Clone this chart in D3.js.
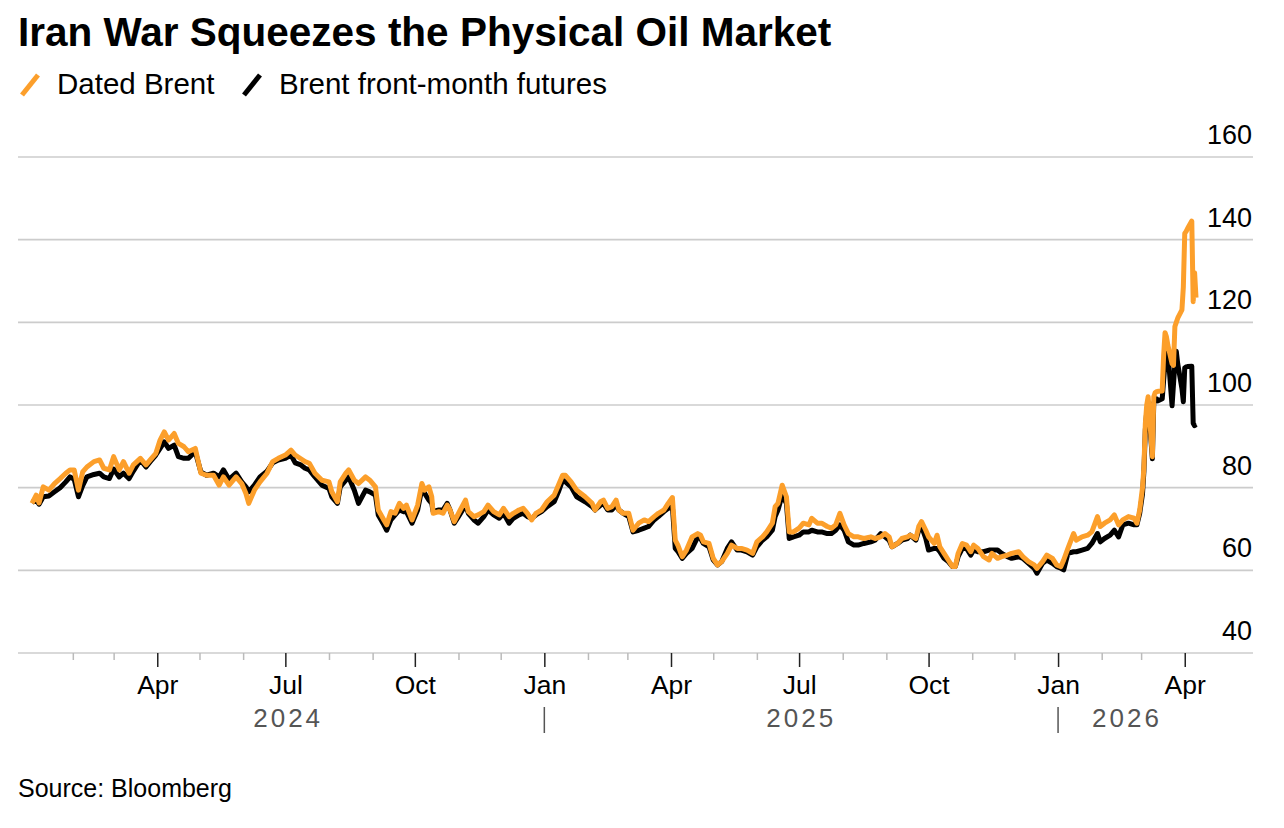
<!DOCTYPE html>
<html>
<head>
<meta charset="utf-8">
<script src="https://cdn.jsdelivr.net/npm/d3@7"></script>
<style>
  body { margin: 0; background: #fff; }
  svg text { font-family: "Liberation Sans", Arial, sans-serif; }
</style>
</head>
<body>
<script>
// values (USD / barrel)
const dates = [
  "2024-01-03","2024-01-06","2024-01-08","2024-01-11","2024-01-15","2024-01-19","2024-01-23","2024-01-27","2024-01-30","2024-02-02",
  "2024-02-05","2024-02-08","2024-02-11","2024-02-16","2024-02-20","2024-02-23","2024-02-27","2024-03-01","2024-03-05","2024-03-08",
  "2024-03-12","2024-03-15","2024-03-20","2024-03-24","2024-03-27","2024-03-31","2024-04-03","2024-04-06","2024-04-09","2024-04-13",
  "2024-04-16","2024-04-20","2024-04-23","2024-04-28","2024-05-02","2024-05-06","2024-05-11","2024-05-15","2024-05-18","2024-05-22",
  "2024-05-27","2024-05-31","2024-06-03","2024-06-05","2024-06-09","2024-06-13","2024-06-18","2024-06-22","2024-06-26","2024-07-01",
  "2024-07-05","2024-07-08","2024-07-12","2024-07-15","2024-07-18","2024-07-22","2024-07-27","2024-08-01","2024-08-03","2024-08-07",
  "2024-08-09","2024-08-13","2024-08-15","2024-08-19","2024-08-22","2024-08-27","2024-08-30","2024-09-03","2024-09-05","2024-09-09",
  "2024-09-11","2024-09-14","2024-09-17","2024-09-20","2024-09-23","2024-09-25","2024-09-29","2024-10-03","2024-10-06","2024-10-08",
  "2024-10-11","2024-10-13","2024-10-14","2024-10-18","2024-10-21","2024-10-24","2024-10-26","2024-10-29","2024-11-01","2024-11-06",
  "2024-11-08","2024-11-12","2024-11-15","2024-11-19","2024-11-22","2024-11-26","2024-11-30","2024-12-03","2024-12-07","2024-12-10",
  "2024-12-14","2024-12-17","2024-12-20","2024-12-23","2024-12-26","2024-12-30","2025-01-03","2025-01-08","2025-01-11","2025-01-14",
  "2025-01-16","2025-01-20","2025-01-24","2025-01-30","2025-02-04","2025-02-06","2025-02-10","2025-02-12","2025-02-15","2025-02-18",
  "2025-02-21","2025-02-23","2025-02-26","2025-03-02","2025-03-05","2025-03-09","2025-03-13","2025-03-16","2025-03-20","2025-03-23",
  "2025-03-27","2025-03-30","2025-04-02","2025-04-04","2025-04-06","2025-04-09","2025-04-12","2025-04-16","2025-04-20","2025-04-22",
  "2025-04-24","2025-04-28","2025-05-01","2025-05-04","2025-05-07","2025-05-11","2025-05-14","2025-05-18","2025-05-21","2025-05-25",
  "2025-05-29","2025-06-01","2025-06-05","2025-06-08","2025-06-12","2025-06-14","2025-06-16","2025-06-19","2025-06-22","2025-06-24",
  "2025-06-27","2025-07-01","2025-07-04","2025-07-08","2025-07-10","2025-07-14","2025-07-17","2025-07-21","2025-07-24","2025-07-27",
  "2025-07-30","2025-08-02","2025-08-05","2025-08-09","2025-08-12","2025-08-16","2025-08-21","2025-08-24","2025-08-28","2025-08-31",
  "2025-09-03","2025-09-05","2025-09-09","2025-09-12","2025-09-16","2025-09-18","2025-09-22","2025-09-24","2025-09-26","2025-09-29",
  "2025-10-01","2025-10-05","2025-10-07","2025-10-09","2025-10-12","2025-10-15","2025-10-18","2025-10-20","2025-10-22","2025-10-25",
  "2025-10-28","2025-10-31","2025-11-02","2025-11-05","2025-11-09","2025-11-13","2025-11-15","2025-11-19","2025-11-22","2025-11-26",
  "2025-11-29","2025-12-04","2025-12-07","2025-12-11","2025-12-15","2025-12-17","2025-12-21","2025-12-24","2025-12-28","2025-12-31",
  "2026-01-03","2026-01-05","2026-01-08","2026-01-12","2026-01-14","2026-01-18","2026-01-22","2026-01-25","2026-01-29","2026-01-31",
  "2026-02-03","2026-02-07","2026-02-10","2026-02-13","2026-02-16","2026-02-20","2026-02-24","2026-02-26","2026-02-28","2026-03-02",
  "2026-03-03","2026-03-04","2026-03-05","2026-03-06","2026-03-09","2026-03-10","2026-03-11","2026-03-12","2026-03-13","2026-03-16",
  "2026-03-17","2026-03-18","2026-03-19","2026-03-20","2026-03-23","2026-03-24","2026-03-25","2026-03-26","2026-03-27","2026-03-30",
  "2026-03-31","2026-04-01","2026-04-02","2026-04-03","2026-04-06","2026-04-07","2026-04-08","2026-04-09"
];

const datedBrent = [
  76.2,78.2,76.3,80.2,79.4,81.0,82.2,83.5,84.3,84.3,
  79.4,83.8,85.0,86.3,86.7,84.7,84.3,87.5,84.3,86.3,
  83.5,85.5,87.1,85.5,86.7,88.3,91.5,93.5,91.5,93.1,
  90.7,89.9,88.7,89.5,83.5,83.0,83.0,80.6,82.6,80.6,
  82.6,81.0,78.6,76.2,79.4,81.4,83.5,86.3,87.1,87.9,
  89.1,87.9,87.0,86.3,85.9,83.5,81.8,81.4,79.0,76.6,
  81.4,83.5,84.3,81.8,81.0,82.6,81.8,80.2,74.6,72.2,
  71.0,74.2,73.8,76.2,75.0,75.8,72.2,75.8,81.0,79.4,
  80.2,77.8,73.8,74.2,73.8,75.8,74.6,71.8,73.8,77.0,
  74.2,73.0,73.4,74.2,75.8,74.2,73.4,75.0,73.0,73.8,
  74.6,75.0,73.8,72.2,73.8,74.6,76.6,78.2,80.6,83.0,
  83.0,81.4,79.4,77.8,76.2,74.6,76.6,77.0,75.0,75.4,
  77.0,74.6,73.8,73.8,69.7,71.4,72.2,71.8,73.0,73.8,
  74.6,76.2,77.6,67.3,66.0,63.3,64.9,68.1,68.9,68.5,
  66.9,66.5,62.9,61.3,62.1,64.1,66.1,65.3,65.3,64.9,
  64.1,66.9,68.1,69.3,71.4,75.4,76.2,80.6,77.8,69.3,
  69.3,70.2,71.4,71.0,72.6,71.4,71.4,70.6,70.2,71.0,
  73.8,71.0,68.9,68.1,68.1,67.7,68.1,67.7,68.1,68.9,
  68.1,65.7,66.5,67.7,68.1,68.5,67.7,70.6,71.8,69.7,
  68.1,66.5,68.5,65.7,64.1,62.5,60.9,60.9,64.1,66.5,
  66.1,64.5,66.1,65.3,63.3,62.5,64.1,62.9,63.3,63.7,
  64.1,64.5,63.3,62.1,61.3,60.5,62.1,63.7,62.9,61.3,
  60.9,62.5,65.3,68.9,67.3,68.1,68.5,69.3,73.0,70.6,
  71.4,72.2,73.4,71.0,72.2,73.0,72.6,71.4,74.6,80.0,
  85.0,95.5,100.0,102.0,87.5,102.0,103.0,103.2,103.3,103.4,
  112.0,117.5,116.5,114.5,110.0,109.6,119.0,120.0,121.0,123.0,
  128.5,141.5,142.0,142.7,144.5,125.0,132.0,126.0
];

const brentFutures = [
  76.5,77.0,76.0,77.8,78.0,79.0,80.0,81.4,82.6,82.0,
  77.8,80.5,82.6,83.2,83.5,82.6,82.2,84.5,82.6,83.5,
  82.2,84.0,86.7,85.0,86.3,87.9,89.5,91.1,89.5,90.3,
  87.5,87.1,87.1,88.7,83.8,83.0,83.5,82.6,84.3,82.0,
  83.5,81.4,80.2,79.0,80.6,82.6,84.0,86.0,86.7,87.1,
  87.9,86.0,85.5,84.7,84.3,82.6,80.6,79.8,77.8,76.2,
  80.2,81.8,82.6,79.4,76.2,79.4,79.0,78.2,73.4,71.0,
  69.7,72.2,73.4,74.6,74.2,74.2,71.4,74.6,79.8,78.6,
  77.0,76.2,74.2,74.6,74.6,76.2,74.6,71.4,73.0,75.8,
  73.8,72.2,71.4,73.0,74.6,73.4,72.6,73.8,71.4,72.6,
  73.4,73.8,73.0,72.6,73.4,74.2,75.4,76.6,79.0,81.8,
  81.4,80.2,77.8,76.6,75.4,74.6,75.8,76.2,74.6,74.6,
  75.8,74.6,73.8,73.0,69.3,69.7,70.2,70.6,72.2,73.0,
  74.2,75.0,75.4,65.3,64.5,62.9,64.1,65.3,68.1,67.7,
  66.5,65.7,62.5,61.3,62.1,65.3,66.9,64.9,64.9,64.5,
  63.7,65.7,67.3,68.1,69.7,73.0,74.6,78.2,76.2,67.7,
  68.1,68.5,69.3,69.3,69.7,69.3,69.3,68.9,68.9,69.7,
  71.0,69.7,66.9,66.1,66.1,66.5,66.9,67.3,68.9,68.1,
  67.3,65.7,66.5,67.3,67.7,68.5,67.3,69.7,70.6,67.7,
  64.9,65.3,65.3,64.5,62.9,62.1,60.9,60.9,63.3,65.3,
  65.3,63.7,64.9,64.5,64.5,64.9,64.9,64.9,64.1,63.3,
  62.9,63.3,62.9,61.7,60.5,59.3,61.7,62.5,61.7,60.9,
  60.5,60.1,64.1,64.5,64.5,64.9,65.3,66.5,68.9,66.9,
  67.7,68.5,69.7,68.1,71.0,71.4,71.0,71.0,73.8,78.5,
  84.0,94.0,98.5,100.5,87.0,100.5,101.0,101.5,101.0,101.5,
  106.0,110.0,113.0,113.0,99.8,105.0,110.0,113.0,110.0,104.0,
  100.8,109.0,109.2,109.3,109.4,95.6,95.0,95.3
];

const yTicks = [40, 60, 80, 100, 120, 140, 160];
const years = [2024, 2025, 2026];
const seriesNames = ["Dated Brent", "Brent front-month futures"];
const seriesColors = ["#fc9f2b", "#000000"];

const W = 1284, H = 828;
const parse = d3.timeParse("%Y-%m-%d");
const rows = dates.map((d, i) => ({ date: parse(d), dated: datedBrent[i], fut: brentFutures[i] }));

const svg = d3.select("body").append("svg")
    .attr("width", W).attr("height", H);

const x = d3.scaleTime()
    .domain(d3.extent(rows, d => d.date))
    .range([32, 1196]);

const y = d3.scaleLinear()
    .domain([40, 160])
    .range([653, 157]);

// title + legend
svg.append("text")
    .attr("x", 18).attr("y", 46)
    .attr("font-size", 40.5).attr("font-weight", "bold")
    .text("Iran War Squeezes the Physical Oil Market");

var legendX = [20, 242];
seriesNames.forEach(function(name, i) {
  var g = svg.append("g").attr("transform", "translate(" + legendX[i] + ",0)");
  g.append("line")
      .attr("x1", 2).attr("y1", 95).attr("x2", 18).attr("y2", 75)
      .attr("stroke", seriesColors[i]).attr("stroke-width", 5);
  g.append("text")
      .attr("x", 37).attr("y", 94)
      .attr("font-size", 29.5)
      .text(name);
});

// grid + y labels
var grid = svg.append("g");
grid.selectAll("line")
  .data(yTicks)
  .enter().append("line")
    .attr("x1", 18).attr("x2", 1253)
    .attr("y1", d => y(d)).attr("y2", d => y(d))
    .attr("stroke", "#cccccc").attr("stroke-width", 1.6);

grid.selectAll("text")
  .data(yTicks)
  .enter().append("text")
    .attr("x", 1252).attr("y", d => y(d) - 13)
    .attr("text-anchor", "end")
    .attr("font-size", 27)
    .text(d => d);

// x axis: monthly ticks, quarter months labelled
const isMajor = d => d.getMonth() % 3 === 0;
var xAxis = svg.append("g")
    .attr("transform", "translate(0,653)")
    .call(d3.axisBottom(x)
      .ticks(d3.timeMonth.every(1))
      .tickSize(14)
      .tickFormat(d => isMajor(d) ? d3.timeFormat("%b")(d) : ""));

xAxis.select(".domain").remove();
xAxis.selectAll(".tick line")
    .attr("y2", d => isMajor(d) ? 14 : 7)
    .attr("stroke", d => isMajor(d) ? "#222" : "#bbbbbb")
    .attr("stroke-width", 1.5);
xAxis.selectAll(".tick text")
    .attr("y", 41).attr("dy", 0)
    .attr("font-size", 26.5)
    .attr("font-family", null)
    .attr("fill", "#000");

// year row
const dom = x.domain();
years.forEach(function(yr) {
  var s = new Date(yr, 0, 1), e = new Date(yr + 1, 0, 1);
  var a = s < dom[0] ? dom[0] : s, b = e > dom[1] ? dom[1] : e;
  svg.append("text")
      .attr("x", (x(a) + x(b)) / 2).attr("y", 727)
      .attr("text-anchor", "middle")
      .attr("font-size", 26)
      .attr("letter-spacing", 3)
      .attr("fill", "#555")
      .text(yr);
  if (s > dom[0]) {
    svg.append("line")
        .attr("x1", x(s)).attr("x2", x(s))
        .attr("y1", 707).attr("y2", 733)
        .attr("stroke", "#555").attr("stroke-width", 1.5);
  }
});

// lines: futures under, dated on top
const lineFut = d3.line().x(d => x(d.date)).y(d => y(d.fut));
const lineDated = d3.line().x(d => x(d.date)).y(d => y(d.dated));

svg.append("path").datum(rows)
    .attr("d", lineFut)
    .attr("fill", "none").attr("stroke", seriesColors[1])
    .attr("stroke-width", 5).attr("stroke-linejoin", "round");

svg.append("path").datum(rows)
    .attr("d", lineDated)
    .attr("fill", "none").attr("stroke", seriesColors[0])
    .attr("stroke-width", 5).attr("stroke-linejoin", "round");

svg.append("text")
    .attr("x", 18).attr("y", 797)
    .attr("font-size", 25)
    .text("Source: Bloomberg");
</script>
</body>
</html>
